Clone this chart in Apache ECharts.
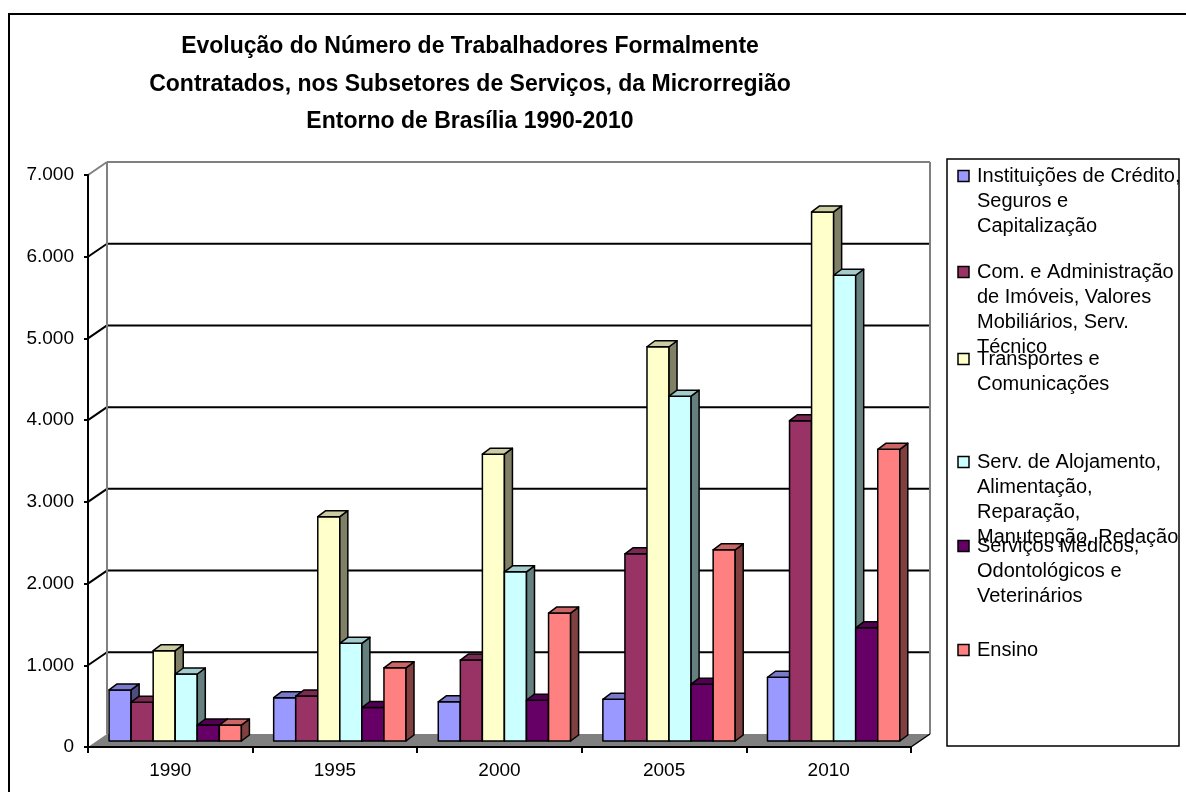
<!DOCTYPE html>
<html><head><meta charset="utf-8">
<script src="https://cdn.jsdelivr.net/npm/echarts@6/dist/echarts.min.js"></script>
<style>html,body{margin:0;padding:0;background:#fff}#c{width:1186px;height:792px}</style>
</head><body><div id="c"></div>
<script>
const categories = ['1990', '1995', '2000', '2005', '2010'];
const seriesNames = [
  'Instituições de Crédito, Seguros e Capitalização',
  'Com. e Administração de Imóveis, Valores Mobiliários, Serv. Técnico',
  'Transportes e Comunicações',
  'Serv. de Alojamento, Alimentação, Reparação, Manutenção, Redação',
  'Serviços Médicos, Odontológicos e Veterinários',
  'Ensino'
];
const legendLabels = [
  'Instituições de Crédito,\nSeguros e\nCapitalização',
  'Com. e Administração\nde Imóveis, Valores\nMobiliários, Serv.\nTécnico',
  'Transportes e\nComunicações',
  'Serv. de Alojamento,\nAlimentação,\nReparação,\nManutenção, Redação',
  'Serviços Médicos,\nOdontológicos e\nVeterinários',
  'Ensino'
];
const credito     = [625, 530, 480, 510, 780];
const imoveis     = [475, 550, 990, 2290, 3920];
const transportes = [1105, 2745, 3510, 4825, 6475];
const alojamento  = [820, 1195, 2070, 4220, 5700];
const medicos     = [195, 410, 500, 695, 1385];
const ensino      = [195, 895, 1565, 2340, 3570];
const yTicks = [0, 1000, 2000, 3000, 4000, 5000, 6000, 7000];
const titleText = 'Evolução do Número de Trabalhadores Formalmente\nContratados, nos Subsetores de Serviços, da Microrregião\nEntorno de Brasília 1990-2010';

const values = [credito, imoveis, transportes, alojamento, medicos, ensino];
const colors = ['#9999FF', '#993366', '#FFFFCC', '#CCFFFF', '#660066', '#FF8080'];
const FONT = '"Liberation Sans", Arial, sans-serif';

function shade(hex, f) {
  const n = parseInt(hex.slice(1), 16);
  const r = Math.round(((n >> 16) & 255) * f), g = Math.round(((n >> 8) & 255) * f), b = Math.round((n & 255) * f);
  return 'rgb(' + r + ',' + g + ',' + b + ')';
}

function makeBarRenderer(sIdx, color) {
  const side = shade(color, 0.5), top = shade(color, 0.8);
  return function (params, api) {
    const ci = api.value(0), v = api.value(1);
    const base = api.coord([ci, 0]);
    const tp = api.coord([ci, v]);
    const catW = api.size([1, 0])[0];
    const bw = catW * 0.134;
    const x0 = base[0] + catW * 0.03 - 3 * bw + sIdx * bw;
    const x1 = x0 + bw;
    const yb = base[1] - 6, yt = tp[1] - 6;
    const dx = 8, dy = -6;
    const st = { stroke: '#000', lineWidth: 1.5, lineJoin: 'round' };
    return { type: 'group', children: [
      { type: 'rect', shape: { x: x0, y: yt, width: bw, height: yb - yt }, style: Object.assign({ fill: color }, st) },
      { type: 'polygon', shape: { points: [[x1, yb], [x1 + dx, yb + dy], [x1 + dx, yt + dy], [x1, yt]] }, style: Object.assign({ fill: side }, st) },
      { type: 'polygon', shape: { points: [[x0, yt], [x0 + dx, yt + dy], [x1 + dx, yt + dy], [x1, yt]] }, style: Object.assign({ fill: top }, st) }
    ] };
  };
}

function renderWalls(params, api) {
  const cs = params.coordSys;
  const dx = 19, dy = -13;
  const L = cs.x, R = cs.x + cs.width, T = cs.y, B = cs.y + cs.height;
  const ch = [];
  yTicks.forEach(function (t, i) {
    if (t === 0) return;
    const y = api.coord([0, t])[1];
    const col = i === yTicks.length - 1 ? '#808080' : '#000';
    ch.push({ type: 'line', shape: { x1: L + dx, y1: y + dy, x2: R + dx, y2: y + dy }, style: { stroke: col, lineWidth: 2 } });
    ch.push({ type: 'line', shape: { x1: L, y1: y, x2: L + dx, y2: y + dy }, style: { stroke: col, lineWidth: 2 } });
  });
  ch.push({ type: 'line', shape: { x1: L + dx, y1: T + dy, x2: L + dx, y2: B + dy }, style: { stroke: '#808080', lineWidth: 2 } });
  ch.push({ type: 'line', shape: { x1: R + dx, y1: T + dy, x2: R + dx, y2: B + dy }, style: { stroke: '#808080', lineWidth: 2 } });
  ch.push({ type: 'polygon', shape: { points: [[L, B], [R, B], [R + dx, B + dy], [L + dx, B + dy]] }, style: { fill: '#808080' } });
  ch.push({ type: 'line', shape: { x1: R, y1: B, x2: R + dx, y2: B + dy }, style: { stroke: '#000', lineWidth: 1.5 } });
  return { type: 'group', children: ch };
}

const series = [{
  type: 'custom', name: 'walls', silent: true, z: 1,
  data: [[0, 0]], renderItem: renderWalls
}];
values.forEach(function (arr, s) {
  series.push({
    type: 'custom', name: seriesNames[s], z: 2,
    itemStyle: { color: colors[s] },
    encode: { x: 0, y: 1 },
    data: arr.map(function (v, i) { return [i, v]; }),
    renderItem: makeBarRenderer(s, colors[s])
  });
});

// legend drawn as graphic entries
const legendFirst = [176, 272, 359, 462, 546, 650];
const graphic = [
  { type: 'rect', shape: { x: 9, y: 14, width: 1200, height: 800 }, style: { fill: null, stroke: '#000', lineWidth: 2 }, z: 0 },
  { type: 'rect', shape: { x: 947, y: 159, width: 232, height: 587 }, style: { fill: '#fff', stroke: '#000', lineWidth: 1.5 } }
];
legendLabels.forEach(function (t, i) {
  graphic.push({ type: 'rect', shape: { x: 958, y: legendFirst[i] - 5.5, width: 11, height: 11 }, style: { fill: colors[i], stroke: '#000', lineWidth: 1.5 } });
  graphic.push({ type: 'text', x: 977, y: legendFirst[i] - 12.5, style: { text: t, fontSize: 20, fontFamily: FONT, fill: '#000', lineHeight: 25, verticalAlign: 'top', align: 'left' } });
});

const chart = echarts.init(document.getElementById('c'), null, { renderer: 'canvas' });
chart.setOption({
  animation: false,
  backgroundColor: '#fff',
  title: {
    text: titleText, left: 470, top: 28, textAlign: 'center', padding: 0,
    textStyle: { fontSize: 23, fontWeight: 'bold', fontFamily: FONT, color: '#000', lineHeight: 37.5 }
  },
  grid: { left: 88, top: 175, width: 823, height: 572, containLabel: false, outerBoundsMode: 'none' },
  xAxis: {
    type: 'category', data: categories, boundaryGap: true, z: 10,
    axisLine: { show: true, lineStyle: { color: '#000', width: 2 } },
    axisTick: { show: true, alignWithLabel: false, length: 6, lineStyle: { color: '#000', width: 2 } },
    axisLabel: { fontSize: 19, fontFamily: FONT, color: '#000', margin: 14 },
    splitLine: { show: false }
  },
  yAxis: {
    type: 'value', min: 0, max: 7000, interval: 1000, z: 10,
    axisLine: { show: true, lineStyle: { color: '#000', width: 2 } },
    axisTick: { show: true, length: 4, lineStyle: { color: '#000', width: 2 } },
    axisLabel: { fontSize: 19, fontFamily: FONT, color: '#000', margin: 14,
      formatter: function (v) { return String(v).replace(/\B(?=(\d{3})+(?!\d))/g, '.'); } },
    splitLine: { show: false }
  },
  graphic: graphic,
  series: series
});
</script>
</body></html>
